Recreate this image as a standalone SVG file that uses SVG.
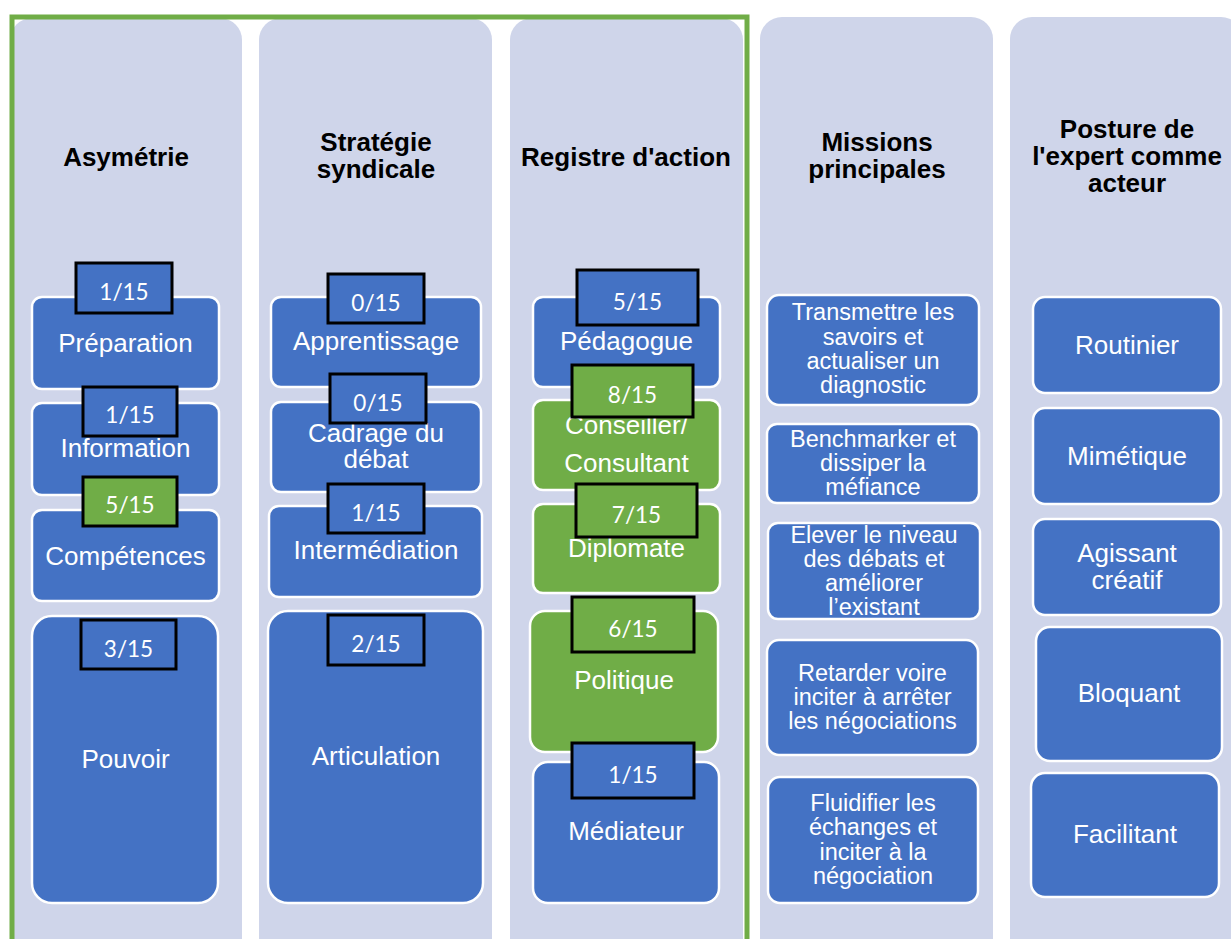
<svg xmlns="http://www.w3.org/2000/svg" width="1231" height="939" viewBox="0 0 1231 939">
<style>
.col{fill:#CFD5EA}
.hd{font-family:"Liberation Sans",Arial,sans-serif;font-weight:bold;font-size:26px;fill:#000;text-anchor:middle}
.bx{fill:#4472C4;stroke:#fff;stroke-width:2.5}
.gb{fill:#70AD47;stroke:#fff;stroke-width:2.5}
.t{font-family:"Liberation Sans",Arial,sans-serif;font-size:26px;fill:#fff;text-anchor:middle}
.s{font-family:"Liberation Sans",Arial,sans-serif;font-size:23.5px;fill:#fff;text-anchor:middle}
.bd{fill:#4472C4;stroke:#000;stroke-width:3}
.bdg{fill:#70AD47;stroke:#000;stroke-width:3}
.bt{font-family:Lato,"Open Sans",sans-serif;font-size:22.5px;fill:#fff;text-anchor:middle}
</style>
<rect width="1231" height="939" fill="#fff"/>
<g id="columns">
<rect class="col" x="10" y="18" width="232" height="945" rx="22"/>
<rect class="col" x="259" y="18" width="233" height="945" rx="22"/>
<rect class="col" x="510" y="18" width="233" height="945" rx="22"/>
<rect class="col" x="760" y="17" width="233" height="945" rx="22"/>
<rect class="col" x="1010" y="17" width="233" height="945" rx="22"/>
<text class="hd" x="126" y="166">Asymétrie</text>
<text class="hd" x="376" y="151">Stratégie</text>
<text class="hd" x="376" y="178">syndicale</text>
<text class="hd" x="626" y="166">Registre d'action</text>
<text class="hd" x="877" y="151">Missions</text>
<text class="hd" x="877" y="178">principales</text>
<text class="hd" x="1127" y="138">Posture de</text>
<text class="hd" x="1127" y="165">l'expert comme</text>
<text class="hd" x="1127" y="192">acteur</text>
</g>
<rect id="frame" x="12" y="17" width="735" height="945" fill="none" stroke="#70AD47" stroke-width="5"/>
<g id="connectors"/>
<g id="n-preparation"><rect class="bx" x="32" y="297" width="187" height="92" rx="10"/><text class="t" x="125.5" y="352">Préparation</text></g>
<g id="n-information"><rect class="bx" x="32" y="403" width="187" height="92" rx="10"/><text class="t" x="125.5" y="457">Information</text></g>
<g id="n-competences"><rect class="bx" x="32" y="510" width="187" height="91" rx="10"/><text class="t" x="125.5" y="565">Compétences</text></g>
<g id="n-pouvoir"><rect class="bx" x="32" y="616" width="186" height="287" rx="20"/><text class="t" x="125.5" y="768">Pouvoir</text></g>
<g id="n-apprentissage"><rect class="bx" x="271" y="297" width="210" height="90" rx="10"/><text class="t" x="376" y="350">Apprentissage</text></g>
<g id="n-cadrage"><rect class="bx" x="271" y="402" width="210" height="90" rx="10"/><text class="t" x="376" y="442">Cadrage du</text><text class="t" x="376" y="468">débat</text></g>
<g id="n-intermediation"><rect class="bx" x="269" y="506" width="213" height="91" rx="10"/><text class="t" x="376" y="559">Intermédiation</text></g>
<g id="n-articulation"><rect class="bx" x="268" y="611" width="215" height="292" rx="20"/><text class="t" x="376" y="765">Articulation</text></g>
<g id="n-pedagogue"><rect class="bx" x="533" y="297" width="187" height="90" rx="10"/><text class="t" x="626.5" y="350">Pédagogue</text></g>
<g id="n-conseiller"><rect class="gb" x="533" y="400" width="187" height="90" rx="10"/><text class="t" x="626.5" y="434">Conseiller/</text><text class="t" x="626.5" y="472">Consultant</text></g>
<g id="n-diplomate"><rect class="gb" x="533" y="504" width="187" height="89" rx="10"/><text class="t" x="626.5" y="557">Diplomate</text></g>
<g id="n-politique"><rect class="gb" x="530" y="611" width="188" height="141" rx="15"/><text class="t" x="624" y="689">Politique</text></g>
<g id="n-mediateur"><rect class="bx" x="533" y="762" width="186" height="141" rx="15"/><text class="t" x="626" y="840">Médiateur</text></g>
<g id="n-transmettre"><rect class="bx" x="767" y="295" width="212" height="110" rx="12"/><text class="s" x="873" y="320">Transmettre les</text><text class="s" x="873" y="345">savoirs et</text><text class="s" x="873" y="369">actualiser un</text><text class="s" x="873" y="393">diagnostic</text></g>
<g id="n-benchmarker"><rect class="bx" x="767" y="424" width="212" height="79" rx="10"/><text class="s" x="873" y="447">Benchmarker et</text><text class="s" x="873" y="471">dissiper la</text><text class="s" x="873" y="495">méfiance</text></g>
<g id="n-elever"><rect class="bx" x="768" y="523" width="212" height="96" rx="10"/><text class="s" x="874" y="543">Elever le niveau</text><text class="s" x="874" y="567">des débats et</text><text class="s" x="874" y="591">améliorer</text><text class="s" x="874" y="615">l’existant</text></g>
<g id="n-retarder"><rect class="bx" x="767" y="640" width="211" height="115" rx="12"/><text class="s" x="872.5" y="681">Retarder voire</text><text class="s" x="872.5" y="705">inciter à arrêter</text><text class="s" x="872.5" y="729">les négociations</text></g>
<g id="n-fluidifier"><rect class="bx" x="768" y="777" width="210" height="126" rx="12"/><text class="s" x="873" y="811">Fluidifier les</text><text class="s" x="873" y="835">échanges et</text><text class="s" x="873" y="860">inciter à la</text><text class="s" x="873" y="884">négociation</text></g>
<g id="n-routinier"><rect class="bx" x="1033" y="297" width="188" height="96" rx="12"/><text class="t" x="1127" y="354">Routinier</text></g>
<g id="n-mimetique"><rect class="bx" x="1033" y="408" width="188" height="96" rx="12"/><text class="t" x="1127" y="465">Mimétique</text></g>
<g id="n-agissant"><rect class="bx" x="1033" y="519" width="188" height="96" rx="12"/><text class="t" x="1127" y="562">Agissant</text><text class="t" x="1127" y="589">créatif</text></g>
<g id="n-bloquant"><rect class="bx" x="1036" y="627" width="186" height="134" rx="14"/><text class="t" x="1129" y="702">Bloquant</text></g>
<g id="n-facilitant"><rect class="bx" x="1031" y="773" width="188" height="124" rx="14"/><text class="t" x="1125" y="843">Facilitant</text></g>
<g id="b-preparation"><rect class="bd" x="76" y="263" width="96" height="50"/><text class="bt" x="124" y="300">1/15</text></g>
<g id="b-information"><rect class="bd" x="83" y="387" width="94" height="49"/><text class="bt" x="130" y="423">1/15</text></g>
<g id="b-competences"><rect class="bdg" x="83" y="477" width="94" height="49"/><text class="bt" x="130" y="513">5/15</text></g>
<g id="b-pouvoir"><rect class="bd" x="81" y="620" width="95" height="49"/><text class="bt" x="128.5" y="657">3/15</text></g>
<g id="b-apprentissage"><rect class="bd" x="328" y="274" width="96" height="49"/><text class="bt" x="376" y="311">0/15</text></g>
<g id="b-cadrage"><rect class="bd" x="330" y="374" width="96" height="49"/><text class="bt" x="378" y="411">0/15</text></g>
<g id="b-intermediation"><rect class="bd" x="328" y="484" width="96" height="49"/><text class="bt" x="376" y="521">1/15</text></g>
<g id="b-articulation"><rect class="bd" x="328" y="615" width="96" height="50"/><text class="bt" x="376" y="652">2/15</text></g>
<g id="b-pedagogue"><rect class="bd" x="577" y="270" width="121" height="55"/><text class="bt" x="637.5" y="310">5/15</text></g>
<g id="b-conseiller"><rect class="bdg" x="572" y="365" width="121" height="52"/><text class="bt" x="632.5" y="403">8/15</text></g>
<g id="b-diplomate"><rect class="bdg" x="576" y="484" width="121" height="53"/><text class="bt" x="636.5" y="523">7/15</text></g>
<g id="b-politique"><rect class="bdg" x="572" y="597" width="122" height="55"/><text class="bt" x="633" y="637">6/15</text></g>
<g id="b-mediateur"><rect class="bd" x="572" y="743" width="122" height="55"/><text class="bt" x="633" y="783">1/15</text></g>
</svg>
